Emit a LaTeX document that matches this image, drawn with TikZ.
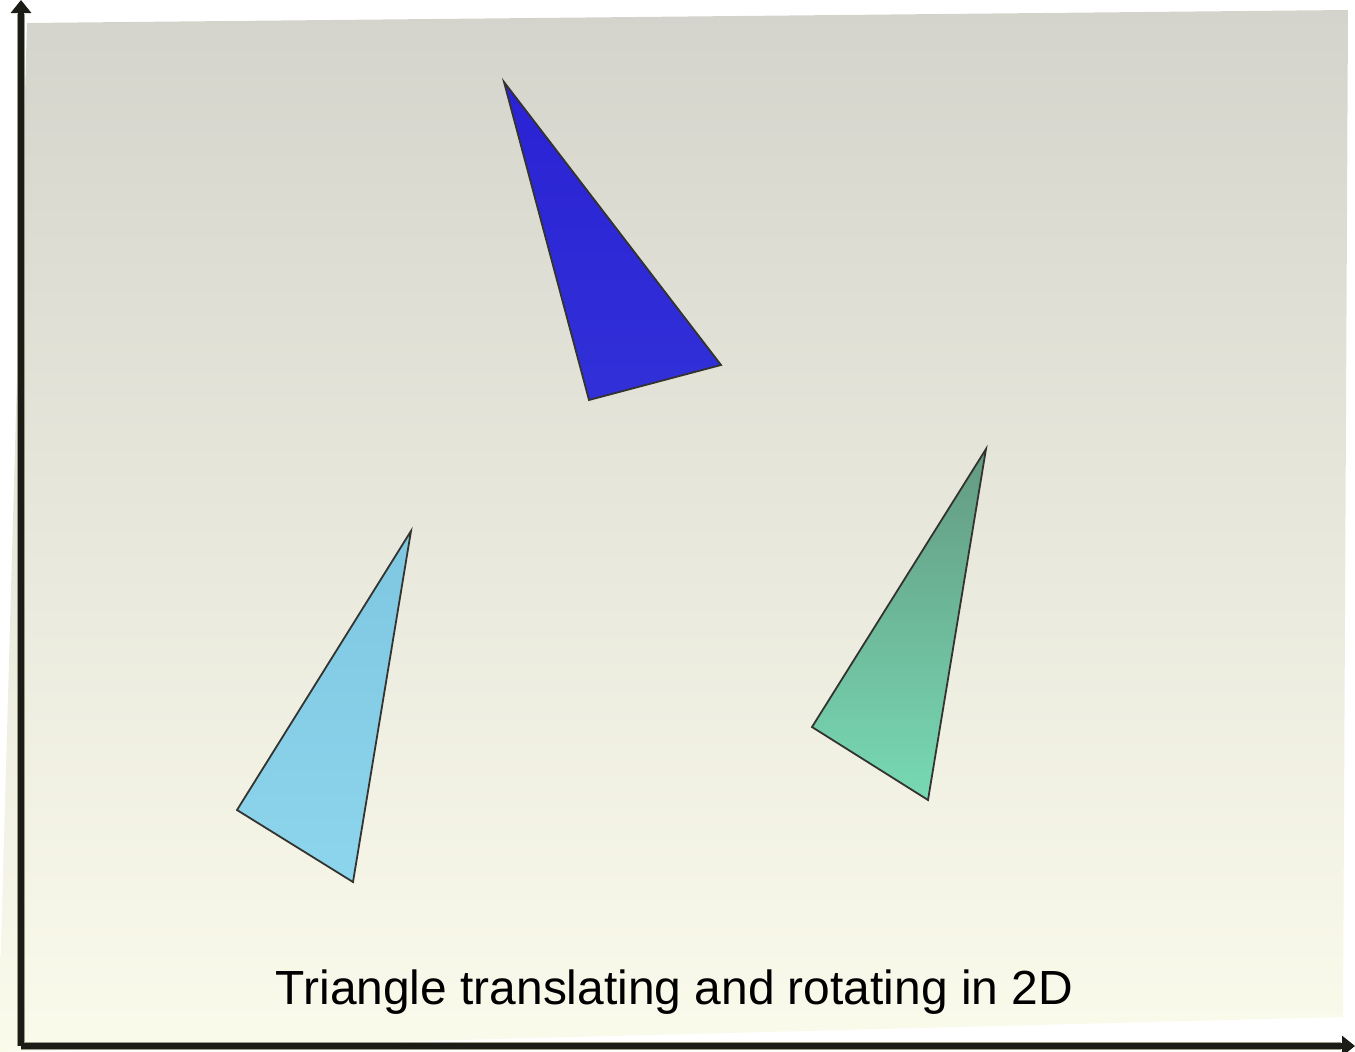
\documentclass[tikz,border=0pt]{standalone}
\usepackage{fontspec}
\setmainfont{Liberation Sans}
\usetikzlibrary{arrows.meta}
\definecolor{bgtop}{HTML}{D5D4CC}
\definecolor{bgbot}{HTML}{FBFBEC}
\definecolor{bluetop}{HTML}{2A22D4}
\definecolor{bluebot}{HTML}{3130D8}
\definecolor{skytop}{HTML}{7FC7E1}
\definecolor{skybot}{HTML}{8CD5EC}
\definecolor{greentop}{HTML}{649A82}
\definecolor{greenbot}{HTML}{77D9B4}
\definecolor{edge}{HTML}{333330}
\definecolor{axiscol}{HTML}{1C1C16}
\definecolor{axisshadow}{HTML}{9A9A88}
\begin{document}
\begin{tikzpicture}[x=1pt,y=-1pt,
  tri/.style={draw=edge,line width=1.8pt,line join=miter},
  axisline/.style={draw=axiscol,line width=6pt,-{Triangle[width=20pt,length=13pt]}},
  axisshade/.style={draw=axisshadow,line width=8pt}]
\useasboundingbox (0,0) rectangle (1355,1052);
% background panel
\shade[top color=bgtop,bottom color=bgbot] (27,23) -- (1348,10) -- (1343,1017) -- (-2,1052) -- cycle;
% triangles
\shadedraw[tri,top color=bluetop,bottom color=bluebot] (504,82) -- (721,365) -- (589,400) -- cycle;
\shadedraw[tri,top color=skytop,bottom color=skybot] (411,531) -- (237,810) -- (353,882) -- cycle;
\shadedraw[tri,top color=greentop,bottom color=greenbot] (986,449) -- (812,727) -- (928,800) -- cycle;
% axes
\coordinate (origin) at (21,1046);
\coordinate (ytip) at (21,0);
\coordinate (xtip) at (1355,1046);
\coordinate (yshadowend) at (21,14);
\coordinate (xshadowend) at (1341,1046);
\draw[axisshade] (origin) -- (yshadowend);
\draw[axisshade] (origin) -- (xshadowend);
\draw[axisline] (origin) -- (ytip);
\draw[axisline] (origin) -- (xtip);
% caption
\node[anchor=base,inner sep=0pt,font=\fontsize{47.9}{57}\selectfont] (caption) at (674.5,1004) {Triangle translating and rotating in 2D};
\end{tikzpicture}
\end{document}
